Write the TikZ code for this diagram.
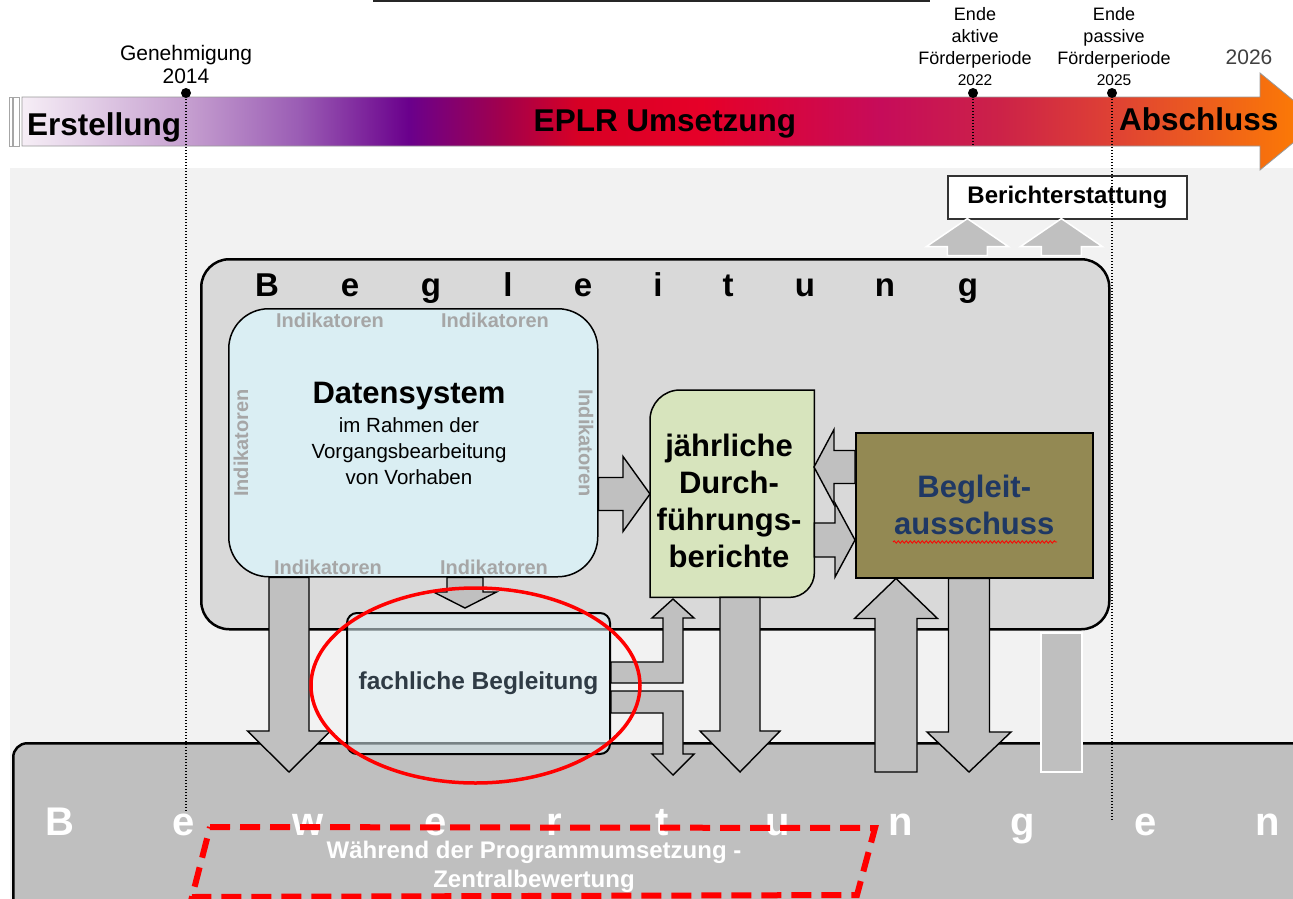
\documentclass[tikz,border=0pt]{standalone}
\usepackage{fontspec}
\setmainfont{Liberation Sans}
\usetikzlibrary{calc,decorations.pathmorphing}

\definecolor{bgpanel}{HTML}{F2F2F2}
\definecolor{begleitgray}{HTML}{D9D9D9}
\definecolor{bewertgray}{HTML}{BFBFBF}
\definecolor{arrowgray}{HTML}{C0C0C0}
\definecolor{datenblue}{HTML}{DAEEF3}
\definecolor{jdbgreen}{HTML}{D7E4BD}
\definecolor{olivebox}{HTML}{938953}
\definecolor{navytext}{HTML}{1F3864}
\definecolor{indigray}{HTML}{A6A6A6}
\definecolor{fachtext}{HTML}{2F3B45}
% timeline colours, left to right
\definecolor{tlA}{HTML}{F6EEF6}
\definecolor{tlB}{HTML}{C6A0D0}
\definecolor{tlC}{HTML}{9A5CB4}
\definecolor{tlD}{HTML}{6A008C}
\definecolor{tlE}{HTML}{A0004E}
\definecolor{tlF}{HTML}{D80024}
\definecolor{tlG}{HTML}{E60028}
\definecolor{tlH}{HTML}{C60C5A}
\definecolor{tlI}{HTML}{CC2248}
\definecolor{tlJ}{HTML}{E04432}
\definecolor{tlK}{HTML}{FF8000}

\pgfdeclarehorizontalshading{timeline}{100bp}{%
  color(0bp)=(tlA); color(25bp)=(tlA); color(31.3bp)=(tlB); color(35.7bp)=(tlC);
  color(39.9bp)=(tlD); color(43.4bp)=(tlE); color(46.5bp)=(tlF); color(51.2bp)=(tlG);
  color(58.1bp)=(tlH); color(62.7bp)=(tlI); color(67.4bp)=(tlJ); color(75bp)=(tlK);
  color(100bp)=(tlK)}

\tikzset{
  blockarrow/.style={draw=black, line width=1.4, fill=arrowgray, line join=miter},
  whitearrow/.style={draw=white, line width=1.5, fill=arrowgray},
  bigbox/.style={draw=black, line width=2.5, anchor=north west, inner sep=0pt},
  panelbox/.style={draw=black, line width=1.5, anchor=north west, inner sep=0pt},
  indik/.style={text=indigray, font=\fontsize{20}{20}\selectfont\bfseries, inner sep=0pt},
  spaced/.style={font=\fontsize{33}{33}\selectfont\bfseries, inner sep=0pt, anchor=base},
  spacedwhite/.style={spaced, text=white, font=\fontsize{40}{40}\selectfont\bfseries},
  timelabel/.style={font=\fontsize{18}{18}\selectfont, inner sep=0pt, anchor=base},
  barlabel/.style={font=\fontsize{31.5}{31.5}\selectfont\bfseries, inner sep=0pt},
  milestone/.style={circle, fill=black, inner sep=0pt, minimum size=10},
  periodline/.style={line width=1.4, dash pattern=on 1.4pt off 1.6pt},
  reddash/.style={red, line width=6, dash pattern=on 20pt off 10pt},
  zbtext/.style={anchor=base, inner sep=0pt, text=white, font=\fontsize{24}{24}\selectfont\bfseries},
}

% vertical block arrow: [style]{from}{tip}{half stem}{half head}{head base offset}
\newcommand{\vblock}[6][blockarrow]{%
  \draw[#1] ($(#2)+(-#4,0)$) -- ($(#3)+(-#4,#6)$) -- ($(#3)+(-#5,#6)$) -- (#3)
    -- ($(#3)+(#5,#6)$) -- ($(#3)+(#4,#6)$) -- ($(#2)+(#4,0)$) -- cycle;}
% horizontal block arrow
\newcommand{\hblock}[6][blockarrow]{%
  \draw[#1] ($(#2)+(0,-#4)$) -- ($(#3)+(#6,-#4)$) -- ($(#3)+(#6,-#5)$) -- (#3)
    -- ($(#3)+(#6,#5)$) -- ($(#3)+(#6,#4)$) -- ($(#2)+(0,#4)$) -- cycle;}

\begin{document}
\begin{tikzpicture}[x=1pt,y=-1pt]
  \useasboundingbox (0,0) rectangle (1293,899);
  \clip (0,0) rectangle (1293,899);
  \fill[white] (0,0) rectangle (1293,899);
  \fill[bgpanel] (10,168) rectangle (1293,899);
  \draw[line width=2.5, black!85] (373,1) -- (930,1);

  % Timeline
  \draw[gray!70, fill=white, line width=0.8] (9.5,97) rectangle (12.7,146);
  \draw[gray!70, fill=white, line width=0.8] (13.5,97) rectangle (19.3,146);
  \shadedraw[shading=timeline, draw=gray!80, line width=0.8]
    (22,97) -- (1260,97) -- (1260,73) -- (1319,121.5)
    -- (1260,170) -- (1260,146) -- (22,146) -- cycle;
  \node[barlabel, anchor=base west] (erst) at (27,135) {Erstellung};
  \node[barlabel, anchor=base] (umsetz) at (665,131) {EPLR Umsetzung};
  \node[barlabel, anchor=base west] (abschl) at (1119,130) {Abschluss};

  \node[milestone] (ms14) at (186,93) {};
  \node[milestone] (ms22) at (973,93) {};
  \node[milestone] (ms25) at (1112,93) {};
  \coordinate (end14) at (186,812);
  \coordinate (end22) at (973,146);
  \coordinate (end25) at (1112,820);

  \node[timelabel, font=\fontsize{21}{21}\selectfont] (gen1) at (186,60) {Genehmigung};
  \node[timelabel, font=\fontsize{21}{21}\selectfont] (gen2) at (186,84) {2014};
  \node[timelabel] (akt1) at (975,21) {Ende};
  \node[timelabel] (akt2) at (975,43) {aktive};
  \node[timelabel] (akt3) at (975,65) {Förderperiode};
  \node[timelabel, font=\fontsize{15.5}{15.5}\selectfont] (akt4) at (975,85) {2022};
  \node[timelabel] (pas1) at (1114,21) {Ende};
  \node[timelabel] (pas2) at (1114,43) {passive};
  \node[timelabel] (pas3) at (1114,65) {Förderperiode};
  \node[timelabel, font=\fontsize{15.5}{15.5}\selectfont] (pas4) at (1114,85) {2025};
  \node[timelabel, font=\fontsize{21}{21}\selectfont, text=black!75] (y26) at (1249,64) {2026};

  % Berichterstattung
  \node[draw=black!80, line width=1.2, fill=white, minimum width=239, minimum height=43,
    inner sep=0pt, font=\fontsize{24}{24}\selectfont\bfseries] (bericht) at (1067.5,197.5) {Berichterstattung};
  \coordinate (bup1) at ($(bericht.south west)+(20,-1)$);
  \coordinate (bup2) at ($(bericht.south west)+(114,-1)$);
  \coordinate (bst1) at ($(bup1)+(0,37)$);
  \coordinate (bst2) at ($(bup2)+(0,37)$);
  \vblock[whitearrow]{bst1}{bup1}{20}{41}{28}
  \vblock[whitearrow]{bst2}{bup2}{20}{41}{28}

  % Bewertungen and Begleitung
  \node[bigbox, fill=bewertgray, rounded corners=14, minimum width=1320, minimum height=200] (bewert) at (12,742) {};
  \node[bigbox, fill=begleitgray, rounded corners=28, minimum width=908, minimum height=370] (begl) at (200,258) {};
  \foreach \ch/\x [count=\i] in {B/267,e/350,g/431,l/508,e/583,i/658,t/728,u/805,n/885,g/968}
    \node[spaced] (beg\i) at (\x,296) {\ch};

  % Datensystem
  \node[panelbox, fill=datenblue, rounded corners=40, minimum width=369, minimum height=268] (daten) at (228,308) {};
  \node[align=center, inner sep=0pt, font=\fontsize{20.5}{26}\selectfont] (datentext) at (409,433)
    {{\fontsize{31}{31}\selectfont\bfseries Datensystem}\\[3pt] im Rahmen der\\ Vorgangsbearbeitung\\ von Vorhaben};
  \node[indik] (ind1) at (330,320) {Indikatoren};
  \node[indik] (ind2) at (495,320) {Indikatoren};
  \node[indik] (ind3) at (328,567) {Indikatoren};
  \node[indik] (ind4) at (494,567) {Indikatoren};
  \node[indik, rotate=90] (ind5) at (241,443) {Indikatoren};
  \node[indik, rotate=-90] (ind6) at (586,443) {Indikatoren};

  % jaehrliche Durchfuehrungsberichte
  \node[minimum width=164, minimum height=207, anchor=north west, inner sep=0pt] (jdb) at (650,390) {};
  \draw[line width=1.5, fill=jdbgreen] (jdb.south west) -- ($(jdb.north west)+(0,30)$) arc (180:270:30)
    -- (jdb.north east) -- ($(jdb.south east)+(0,-25)$) arc (0:90:25) -- cycle;
  \node[align=center, inner sep=0pt, font=\fontsize{31}{37}\selectfont\bfseries] (jdbtext) at (729,501)
    {jährliche\\Durch-\\führungs-\\berichte};

  % Begleitausschuss
  \node[panelbox, fill=olivebox, minimum width=237, minimum height=145, align=center, text=navytext,
    font=\fontsize{31}{37}\selectfont\bfseries] (auss) at (855,432) {Begleit-\\ausschuss};
  \draw[red, line width=0.8, decorate, decoration={snake, amplitude=1.2pt, segment length=4pt}]
    (893,542) -- (1057,542);

  % fachliche Begleitung
  \node[panelbox, line width=2, fill=datenblue, fill opacity=0.55, text opacity=1, rounded corners=10,
    minimum width=263, minimum height=141, text=fachtext,
    font=\fontsize{24.5}{24.5}\selectfont\bfseries] (fach) at (346,612) {fachliche Begleitung};

  % Block arrows
  \coordinate (tipA) at (289,772);
  \coordinate (srcA) at (tipA |- daten.south);
  \vblock{srcA}{tipA}{20}{41.5}{-41}
  \coordinate (tipB) at (465,608);
  \coordinate (srcB) at (tipB |- daten.south);
  \vblock{srcB}{tipB}{18}{31.5}{-16}
  \coordinate (tipC) at (740,772);
  \coordinate (srcC) at (tipC |- jdb.south);
  \vblock{srcC}{tipC}{20}{40}{-41}
  \coordinate (srcD) at (896,772);
  \coordinate (tipD) at (srcD |- auss.south);
  \vblock{srcD}{tipD}{21}{41.5}{40}
  \coordinate (tipE) at (969,772);
  \coordinate (srcE) at (tipE |- auss.south);
  \vblock{srcE}{tipE}{20.5}{42}{-40}
  \coordinate (tipF) at (650,494);
  \coordinate (srcF) at (daten.east |- tipF);
  \hblock{srcF}{tipF}{16.5}{37.5}{-27}
  \coordinate (tipG) at (814,467);
  \coordinate (srcG) at (auss.west |- tipG);
  \hblock{srcG}{tipG}{16.5}{37.5}{20}
  \coordinate (tipH) at (855,540);
  \coordinate (srcH) at (jdb.east |- tipH);
  \hblock{srcH}{tipH}{17}{37}{-20}

  % bent arrows out of the fachliche Begleitung
  \begin{scope}[shift={(fach.east)}]
    \draw[blockarrow] (0,-21.5) -- (52,-21.5) -- (52,-65.5) -- (41,-65.5) -- (62,-84.5)
      -- (83,-65.5) -- (72,-65.5) -- (72,-0.5) -- (0,-0.5) -- cycle;
    \draw[blockarrow] (0,7.5) -- (72,7.5) -- (72,70.5) -- (83,70.5) -- (62,91.5)
      -- (41,70.5) -- (52,70.5) -- (52,29.5) -- (0,29.5) -- cycle;
  \end{scope}

  \draw[white, line width=1.5, fill=bewertgray] (1041,633) rectangle (1082,772);

  \foreach \ch/\x [count=\i] in {B/60,e/184,w/308,e/436,r/554,t/662,u/778,n/901,g/1023,e/1146,n/1268}
    \node[spacedwhite] (bew\i) at (\x,835) {\ch};

  % Zentralbewertung
  \draw[reddash] (210,827) -- (875,828) -- (857,895) -- (192,897) -- cycle;
  \node[zbtext] (zb1) at (534,858) {Während der Programmumsetzung -};
  \node[zbtext] (zb2) at (534,887) {Zentralbewertung};

  \draw[red, line width=3.5] (475.5,685.5) ellipse [x radius=164.5, y radius=97.5];

  % period lines
  \draw[periodline] (ms14.center) -- (end14);
  \draw[periodline] (ms22.center) -- (end22);
  \draw[periodline] (ms25.center) -- (end25);
\end{tikzpicture}
\end{document}
